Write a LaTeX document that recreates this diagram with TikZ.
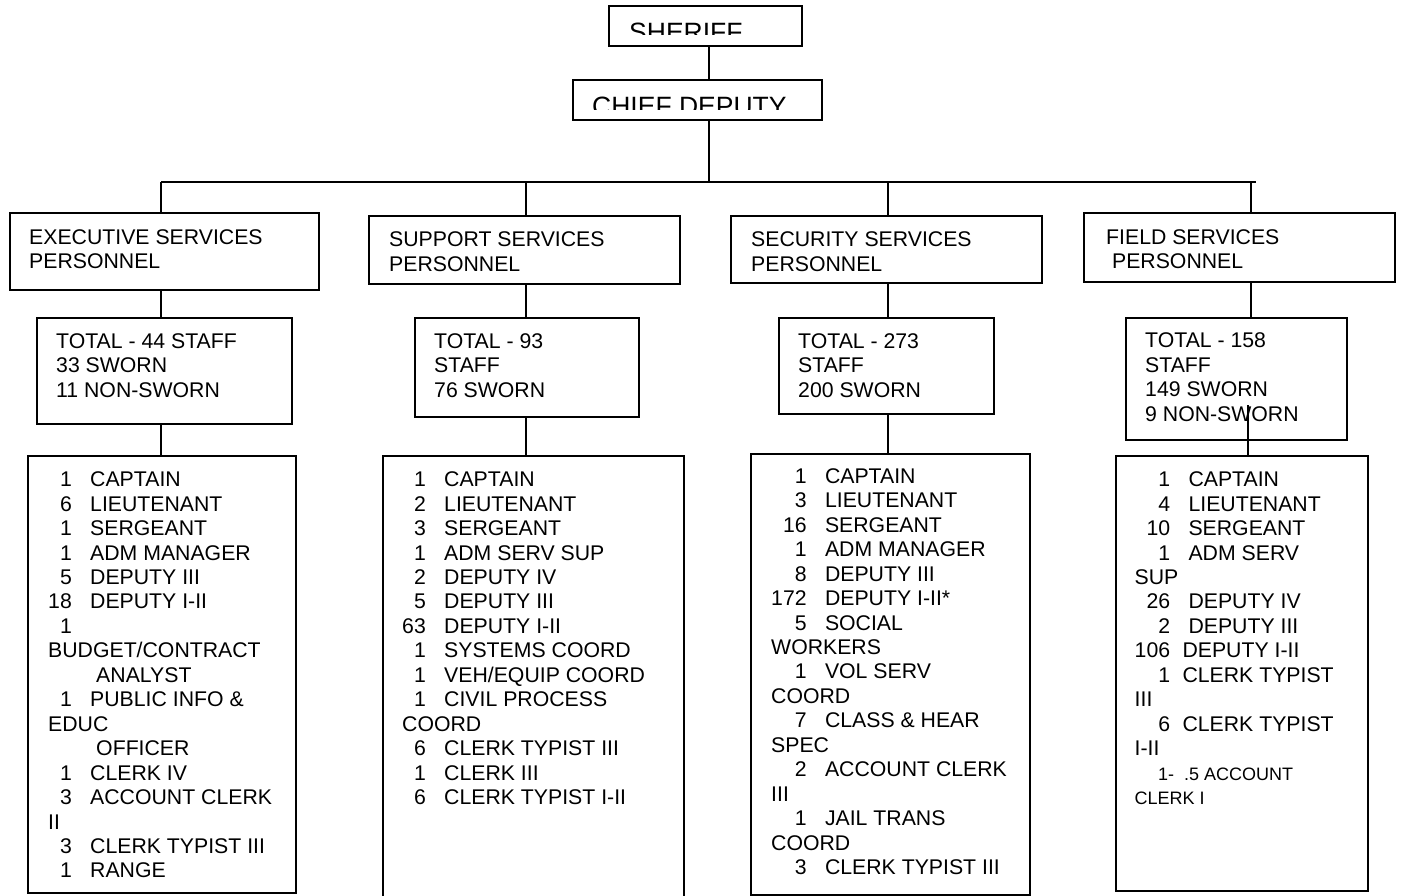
\documentclass[tikz,border=0pt]{standalone}
\usepackage{fontspec}
\setmainfont{Liberation Sans}
\newcommand{\wrapline}[1]{\multicolumn{2}{@{}l@{}}{#1}}
\newcommand{\boxlines}[1]{\begin{tabular}[t]{@{}l@{}}#1\end{tabular}}
\begin{document}
\begin{tikzpicture}[x=1pt, y=-1pt,
  box/.style={draw, line width=1.6pt, inner sep=0pt, outer sep=0pt, anchor=north west},
  txt/.style={inner sep=0pt, anchor=base west, font=\fontsize{21.25}{24.45}\selectfont},
  big/.style={inner sep=0pt, anchor=base west, font=\fontsize{26.5}{30}\selectfont},
  link/.style={line width=1.6pt}]
\useasboundingbox (0,0) rectangle (1403,896);
% top of the chart
\node[box, minimum width=193pt, minimum height=40pt] (sheriff) at (609,6) {};
\node[box, minimum width=249pt, minimum height=40pt] (chief) at (573,80) {};
\begin{scope}
\clip (609,6) rectangle (802,35);
\node[big] (sherifftext) at (629,42) {SHERIFF};
\end{scope}
\begin{scope}
\clip (573,80) rectangle (822,110);
\node[big] (chieftext) at (592,116) {CHIEF DEPUTY};
\end{scope}
\coordinate (stem) at (709,182);
\coordinate (execbus) at (161,182);
\coordinate (suppbus) at (526,182);
\coordinate (secbus) at (888,182);
\coordinate (fieldbus) at (1251,182);
\coordinate (busend) at (1256,182);

% division headers
\node[box, minimum width=309pt, minimum height=77pt] (exechead) at (10,213) {};
\node[box, minimum width=311pt, minimum height=68pt] (supphead) at (369,216) {};
\node[box, minimum width=311pt, minimum height=67pt] (sechead) at (731,216) {};
\node[box, minimum width=311pt, minimum height=69pt] (fieldhead) at (1084,213) {};
\node[txt] (exectitle) at (29,244.5) {\boxlines{EXECUTIVE SERVICES\\PERSONNEL}};
\node[txt] (supptitle) at (389,246.7) {\boxlines{SUPPORT SERVICES\\PERSONNEL}};
\node[txt] (sectitle) at (751,246.7) {\boxlines{SECURITY SERVICES\\PERSONNEL}};
\node[txt] (fieldtitle) at (1106,244.3) {\boxlines{FIELD SERVICES\\\hspace{5.9pt}PERSONNEL}};

% staff totals
\node[box, minimum width=255pt, minimum height=106pt] (exectot) at (37,318) {};
\node[box, minimum width=224pt, minimum height=99pt] (supptot) at (415,318) {};
\node[box, minimum width=215pt, minimum height=96pt] (sectot) at (779,318) {};
\node[box, minimum width=221pt, minimum height=122pt] (fieldtot) at (1126,318) {};
\node[txt] (exectotal) at (56,348.5) {\boxlines{TOTAL - 44 STAFF\\33 SWORN\\11 NON-SWORN}};
\node[txt] (supptotal) at (434,348.5) {\boxlines{TOTAL - 93\\STAFF\\76 SWORN}};
\node[txt] (sectotal) at (798,348.5) {\boxlines{TOTAL - 273\\STAFF\\200 SWORN}};
\node[txt] (fieldtotal) at (1145,347.7) {\boxlines{TOTAL - 158\\STAFF\\149 SWORN\\9 NON-SWORN}};
\coordinate (fieldjoin) at (1248,405);

% position lists
\node[box, minimum width=268pt, minimum height=437pt] (execlist) at (28,456) {};
\node[box, minimum width=301pt, minimum height=444pt] (supplist) at (383,456) {};
\node[box, minimum width=279pt, minimum height=441pt] (seclist) at (751,454) {};
\node[box, minimum width=252pt, minimum height=435pt] (fieldlist) at (1116,456) {};

\node[txt] (exectext) at (48,486.7) {\begin{tabular}[t]{@{}r@{\hspace{18.4pt}}l@{}}
1 & CAPTAIN\\
6 & LIEUTENANT\\
1 & SERGEANT\\
1 & ADM MANAGER\\
5 & DEPUTY III\\
18 & DEPUTY I-II\\
1 & \\
\wrapline{BUDGET/CONTRACT}\\
 & \hspace{6pt}ANALYST\\
1 & PUBLIC INFO \&\\
\wrapline{EDUC}\\
 & \hspace{6pt}OFFICER\\
1 & CLERK IV\\
3 & ACCOUNT CLERK\\
\wrapline{II}\\
3 & CLERK TYPIST III\\
1 & RANGE
\end{tabular}};

\node[txt] (supptext) at (402,486.7) {\begin{tabular}[t]{@{}r@{\hspace{18.4pt}}l@{}}
1 & CAPTAIN\\
2 & LIEUTENANT\\
3 & SERGEANT\\
1 & ADM SERV SUP\\
2 & DEPUTY IV\\
5 & DEPUTY III\\
63 & DEPUTY I-II\\
1 & SYSTEMS COORD\\
1 & VEH/EQUIP COORD\\
1 & CIVIL PROCESS\\
\wrapline{COORD}\\
6 & CLERK TYPIST III\\
1 & CLERK III\\
6 & CLERK TYPIST I-II
\end{tabular}};

\node[txt] (sectext) at (771,483.3) {\begin{tabular}[t]{@{}r@{\hspace{18.4pt}}l@{}}
1 & CAPTAIN\\
3 & LIEUTENANT\\
16 & SERGEANT\\
1 & ADM MANAGER\\
8 & DEPUTY III\\
172 & DEPUTY I-II*\\
5 & SOCIAL\\
\wrapline{WORKERS}\\
1 & VOL SERV\\
\wrapline{COORD}\\
7 & CLASS \& HEAR\\
\wrapline{SPEC}\\
2 & ACCOUNT CLERK\\
\wrapline{III}\\
1 & JAIL TRANS\\
\wrapline{COORD}\\
3 & CLERK TYPIST III
\end{tabular}};

\node[txt] (fieldtext) at (1134.5,486.7) {\begin{tabular}[t]{@{}r@{\hspace{18.4pt}}l@{}}
1 & CAPTAIN\\
4 & LIEUTENANT\\
10 & SERGEANT\\
1 & ADM SERV\\
\wrapline{SUP}\\
26 & DEPUTY IV\\
2 & DEPUTY III\\
106 & \hspace{-6pt}DEPUTY I-II\\
1 & \hspace{-6pt}CLERK TYPIST\\
\wrapline{III}\\
6 & \hspace{-6pt}CLERK TYPIST\\
\wrapline{I-II}\\
\wrapline{\fontsize{18}{24.45}\selectfont\hspace{23.5pt}1-\ \ .5 ACCOUNT}\\
\wrapline{\fontsize{18}{24.45}\selectfont CLERK I}
\end{tabular}};

% connectors
\draw[link] (stem |- sheriff.south) -- (stem |- chief.north);
\draw[link] (stem |- chief.south) -- (stem);
\draw[link] (execbus) -- (busend);
\draw[link] (execbus) -- (execbus |- exechead.north);
\draw[link] (suppbus) -- (suppbus |- supphead.north);
\draw[link] (secbus) -- (secbus |- sechead.north);
\draw[link] (fieldbus) -- (fieldbus |- fieldhead.north);
\draw[link] (execbus |- exechead.south) -- (execbus |- exectot.north);
\draw[link] (suppbus |- supphead.south) -- (suppbus |- supptot.north);
\draw[link] (secbus |- sechead.south) -- (secbus |- sectot.north);
\draw[link] (fieldbus |- fieldhead.south) -- (fieldbus |- fieldtot.north);
\draw[link] (execbus |- exectot.south) -- (execbus |- execlist.north);
\draw[link] (suppbus |- supptot.south) -- (suppbus |- supplist.north);
\draw[link] (secbus |- sectot.south) -- (secbus |- seclist.north);
\draw[link] (fieldjoin) -- (fieldjoin |- fieldlist.north);
\end{tikzpicture}
\end{document}
